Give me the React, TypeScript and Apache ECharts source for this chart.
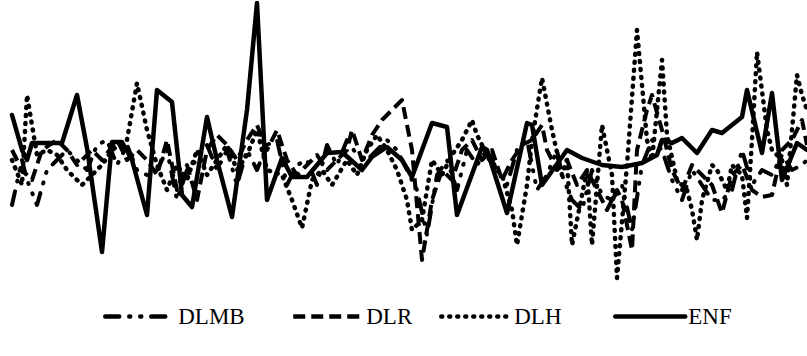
import React, { useEffect, useRef } from "react";
import * as echarts from "echarts";

const seriesNames = ["DLMB", "DLR", "DLH", "ENF"];

const dlmbX = [0,2,3,5,7,9,11,13,15,17,19,21,23,25,27,29,31,33,35,37,39,41,43,45,47,49,51,53,55,57,59,61,63,65,67,69,71,73,75,77,79,81,83,85,87,89,91,93,95,97,99,101,103,105,107,109,110,112,114,116,118,120,122,124,126,128,130,132,134,136,138,140,142,144,146,148,150,152,154,156,158,159];
const dlmbY = [-0.42,0.03,-0.17,-0.42,-0.07,0.03,0.13,0.03,-0.07,0.18,0.23,-0.02,0.18,-0.07,-0.12,-0.07,0.13,-0.37,-0.07,0.03,0.18,-0.07,0.13,-0.22,0.13,-0.07,0.18,0.23,-0.22,-0.02,0.03,-0.22,0.18,-0.02,0.23,0.08,0.03,0.13,0.23,0.13,-0.07,-0.27,-0.72,-0.12,0.03,-0.27,0.13,-0.02,0.13,-0.07,-0.22,0.13,0.23,-0.27,-0.12,0.13,-0.12,-0.37,-0.47,-0.07,-0.32,-0.37,-0.22,-0.67,-0.02,0.23,0.13,-0.17,-0.37,-0.07,-0.22,-0.37,-0.37,-0.27,0.13,-0.22,-0.07,-0.12,0.08,-0.07,-0.02,0.03];

const dlrX = [0,2,4,6,9,11,13,16,18,21,23,25,27,29,31,33,35,37,39,41,43,45,47,49,51,53,55,57,59,61,63,65,67,68,70,72,74,76,78,80,82,84,86,88,90,92,94,96,98,100,102,104,106,107,109,111,113,115,117,119,121,122,124,125,127,128,130,132,134,136,138,140,142,144,146,148,150,152,154,156,158,159];
const dlrY = [0.13,-0.07,-0.17,0.13,0.23,0.13,-0.02,0.13,0.03,0.23,0.03,0.13,0.03,-0.12,0.23,-0.27,-0.02,-0.37,0.13,0.28,0.18,0.03,0.23,0.38,0.13,0.33,0.03,-0.12,-0.02,0.08,-0.07,0.03,0.13,0.33,0.03,0.28,0.43,0.53,0.63,0.13,-0.97,-0.37,-0.07,-0.17,0.13,0.23,0.03,0.13,-0.17,0.03,0.18,0.23,0.38,0.13,-0.07,0.03,-0.22,-0.07,-0.27,-0.47,-0.27,-0.37,-0.87,0.13,0.53,0.68,0.33,-0.07,-0.27,-0.02,-0.12,-0.22,-0.5,-0.12,-0.02,-0.27,-0.34,-0.32,0.13,0.23,0.43,0.18];

const dlhX = [0,2,3,5,7,9,11,14,16,18,20,23,25,27,29,31,33,35,37,39,41,43,45,47,49,51,54,56,58,60,62,64,67,69,71,73,75,77,79,80,82,84,86,88,90,92,93,96,98,100,101,103,104,106,108,110,111,112,115,116,118,120,121,123,125,127,128,130,131,133,135,136,137,138,140,141,143,144,146,147,148,149,151,152,154,155,157,158,159];
const dlhY = [0.03,-0.22,0.68,0.08,0.13,0.08,-0.07,-0.22,-0.12,-0.02,0.13,0.23,0.8,0.33,-0.02,-0.27,-0.02,-0.17,0.13,-0.12,0.03,0.18,-0.07,0.08,0.33,-0.07,-0.12,-0.37,-0.65,-0.17,-0.07,-0.22,0.03,-0.12,0.13,0.28,0.13,-0.07,-0.37,-0.67,-0.57,0.03,-0.12,0.08,0.23,0.43,0.28,-0.02,-0.12,-0.47,-0.82,-0.22,0.23,0.85,0.33,-0.12,0.03,-0.82,-0.07,-0.82,0.38,-0.12,-1.15,-0.02,1.33,0.23,0.03,1.03,0.28,-0.17,-0.27,-0.47,-0.77,-0.37,-0.02,-0.07,-0.27,-0.02,-0.12,-0.55,0.23,1.11,0.33,0.13,0.03,-0.22,0.88,0.68,0.53];

const enfX = [0,2,3,4,7,10,13,15,18,20,22,24,27,29,32,34,36,39,41,44,47,49,51,54,56,59,63,66,70,72,75,78,80,84,87,89,94,95,99,103,104,106,111,114,118,122,126,129,130,132,134,137,140,142,146,147,150,152,154,157,159];
const enfY = [0.48,0.13,0.03,0.2,0.2,0.2,0.68,0.15,-0.89,0.21,0.21,0.03,-0.52,0.73,0.61,-0.32,-0.44,0.46,0.03,-0.54,0.53,1.6,-0.37,0.05,-0.14,-0.14,0.1,0.11,-0.07,0.06,0.16,0.03,-0.14,0.4,0.36,-0.52,0.16,0.13,-0.5,0.4,0.38,-0.22,0.13,0.05,-0.02,-0.04,0,0.08,0.23,0.2,0.25,0.1,0.33,0.3,0.46,0.73,0.1,0.7,-0.17,0.2,0.13];

const zip = (xs: number[], ys: number[]) => xs.map((x, i) => [x, ys[i]]);

const legendLefts = [98, 286, 434, 608];

export default function App() {
  const ref = useRef<HTMLDivElement>(null);
  useEffect(() => {
    if (!ref.current) return;
    const chart = echarts.init(ref.current, null, { renderer: "svg" });
    const styles: any[] = [
      { width: 4, type: [14, 10, 1, 10, 1, 10], cap: "round" },
      { width: 4, type: [12, 6], cap: "butt" },
      { width: 4.5, type: [1, 7], cap: "round" },
      { width: 4.5, type: "solid", cap: "round" },
    ];
    const datas = [zip(dlmbX, dlmbY), zip(dlrX, dlrY), zip(dlhX, dlhY), zip(enfX, enfY)];
    chart.setOption({
      animation: false,
      backgroundColor: "#ffffff",
      grid: { left: 12, right: 0, top: 3, height: 280 },
      xAxis: { type: "value", min: 0, max: 159, show: false },
      yAxis: { type: "value", min: -1.2, max: 1.6, show: false },
      legend: seriesNames.map((n, i) => ({
        data: [n],
        left: legendLefts[i],
        top: 300,
        itemWidth: 70,
        itemHeight: 14,
        itemGap: 4,
        itemStyle: { opacity: 0 },
        lineStyle: { width: 4.5, color: "#000" },
        textStyle: { color: "#000", fontFamily: "Liberation Serif", fontSize: 23, padding: [0, 0, 0, -2] },
        selectedMode: false,
      })),
      series: seriesNames.map((n, i) => ({
        name: n,
        type: "line",
        data: datas[i],
        symbol: "none",
        color: "#000",
        lineStyle: { color: "#000", join: "round", ...styles[i] },
      })),
    });
    return () => chart.dispose();
  }, []);
  return <div ref={ref} style={{ position: "fixed", left: 0, top: 0, width: 807, height: 356, background: "#fff" }} />;
}
